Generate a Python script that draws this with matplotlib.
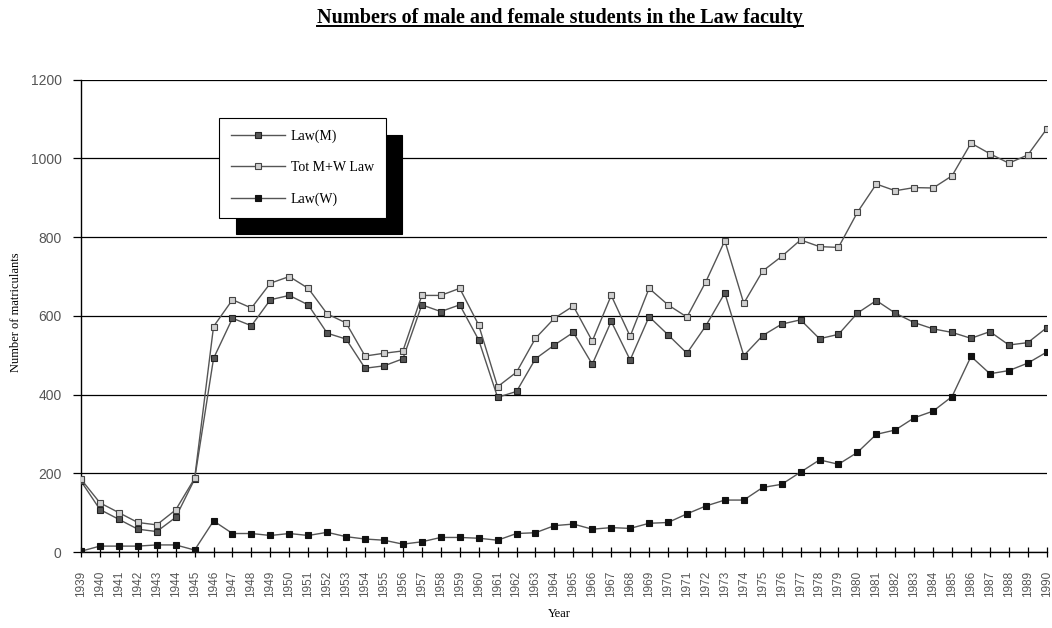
import matplotlib
matplotlib.use("Agg")
import matplotlib.pyplot as plt
from matplotlib.lines import Line2D

years = list(range(1939, 1991))

law_m = [180, 108, 83, 58, 52, 88, 185, 492, 594, 575, 641, 652, 628, 556, 541,
         467, 473, 491, 628, 611, 628, 539, 393, 408, 491, 526, 558, 477, 586, 488,
         598, 552, 505, 575, 658, 499, 550, 579, 590, 542, 553, 607, 639, 607, 583,
         567, 558, 543, 560, 526, 532, 570]

law_tot = [185, 125, 100, 75, 69, 107, 187, 573, 641, 620, 683, 700, 670, 605, 582,
           498, 505, 511, 652, 652, 670, 577, 420, 457, 543, 594, 625, 536, 652, 548,
           670, 628, 597, 687, 791, 632, 714, 751, 793, 776, 774, 863, 935, 918, 926,
           925, 956, 1039, 1012, 988, 1009, 1075]

law_w = [2, 15, 15, 15, 18, 18, 5, 79, 47, 47, 42, 47, 42, 50, 39,
         33, 30, 20, 26, 37, 37, 35, 30, 47, 49, 67, 71, 58, 62, 60,
         73, 75, 97, 117, 132, 132, 164, 172, 203, 234, 223, 253, 299, 310, 341,
         358, 395, 497, 453, 461, 480, 508]

y_ticks = [0, 200, 400, 600, 800, 1000, 1200]

serif = ["Liberation Serif", "DejaVu Serif"]
sans = ["Liberation Sans", "DejaVu Sans"]

fig = plt.figure(figsize=(10.52, 6.28), dpi=100)
ax = fig.add_axes([0.077, 0.121, 0.918, 0.752])

line_col = "#555555"
ax.plot(years, law_m, color=line_col, lw=1.0, marker="s", ms=4.5,
        mfc="#555555", mec="#222222", mew=0.8, label="Law(M)", zorder=3)
ax.plot(years, law_tot, color=line_col, lw=1.0, marker="s", ms=4.5,
        mfc="#d0d0d0", mec="#444444", mew=0.8, label="Tot M+W Law", zorder=3)
ax.plot(years, law_w, color=line_col, lw=1.0, marker="s", ms=4.5,
        mfc="#111111", mec="#111111", mew=0.8, label="Law(W)", zorder=3)

ax.set_xlim(1939, 1990)
ax.set_ylim(0, 1200)
ax.set_yticks(y_ticks)
ax.set_xticks(years)
ax.set_xticklabels([str(y) for y in years], rotation=90, fontsize=8.5,
                   family=sans, color="#555555")
ax.set_yticklabels([str(v) for v in y_ticks], fontsize=10, family=sans,
                   color="#555555")
ax.tick_params(axis="x", direction="inout", length=7, width=0.9, pad=10)
ax.tick_params(axis="y", direction="out", length=6, width=0.9, pad=8)
ax.yaxis.grid(True, color="black", lw=0.9)
ax.set_axisbelow(True)
for side in ("top", "right"):
    ax.spines[side].set_visible(False)
for side in ("left", "bottom"):
    ax.spines[side].set_linewidth(1.0)

leg = ax.legend(loc="upper left", bbox_to_anchor=(0.143, 0.919), borderaxespad=0,
                frameon=True, fancybox=False, edgecolor="black", framealpha=1,
                prop={"family": serif, "size": 10}, handlelength=3.9,
                labelspacing=1.3, borderpad=0.85, handletextpad=0.4,
                shadow={"ox": 12, "oy": -12, "color": "black", "alpha": 1})
leg.get_frame().set_linewidth(0.8)

fig.text(0.015, 0.503, "Number of matriculants", rotation=90, ha="center",
         va="center", fontsize=9, family=serif)
fig.text(0.532, 0.013, "Year", ha="center", va="bottom", fontsize=9, family=serif)

title = fig.text(0.532, 0.972, "Numbers of male and female students in the Law faculty",
                 ha="center", va="center", fontsize=14.5, fontweight="bold", family=serif)
fig.canvas.draw()
bb = title.get_window_extent().transformed(fig.transFigure.inverted())
fig.add_artist(Line2D([bb.x0, bb.x1], [bb.y0 + 0.002, bb.y0 + 0.002],
                      transform=fig.transFigure, color="black", lw=1.4))

fig.savefig("out.png", dpi=100)
